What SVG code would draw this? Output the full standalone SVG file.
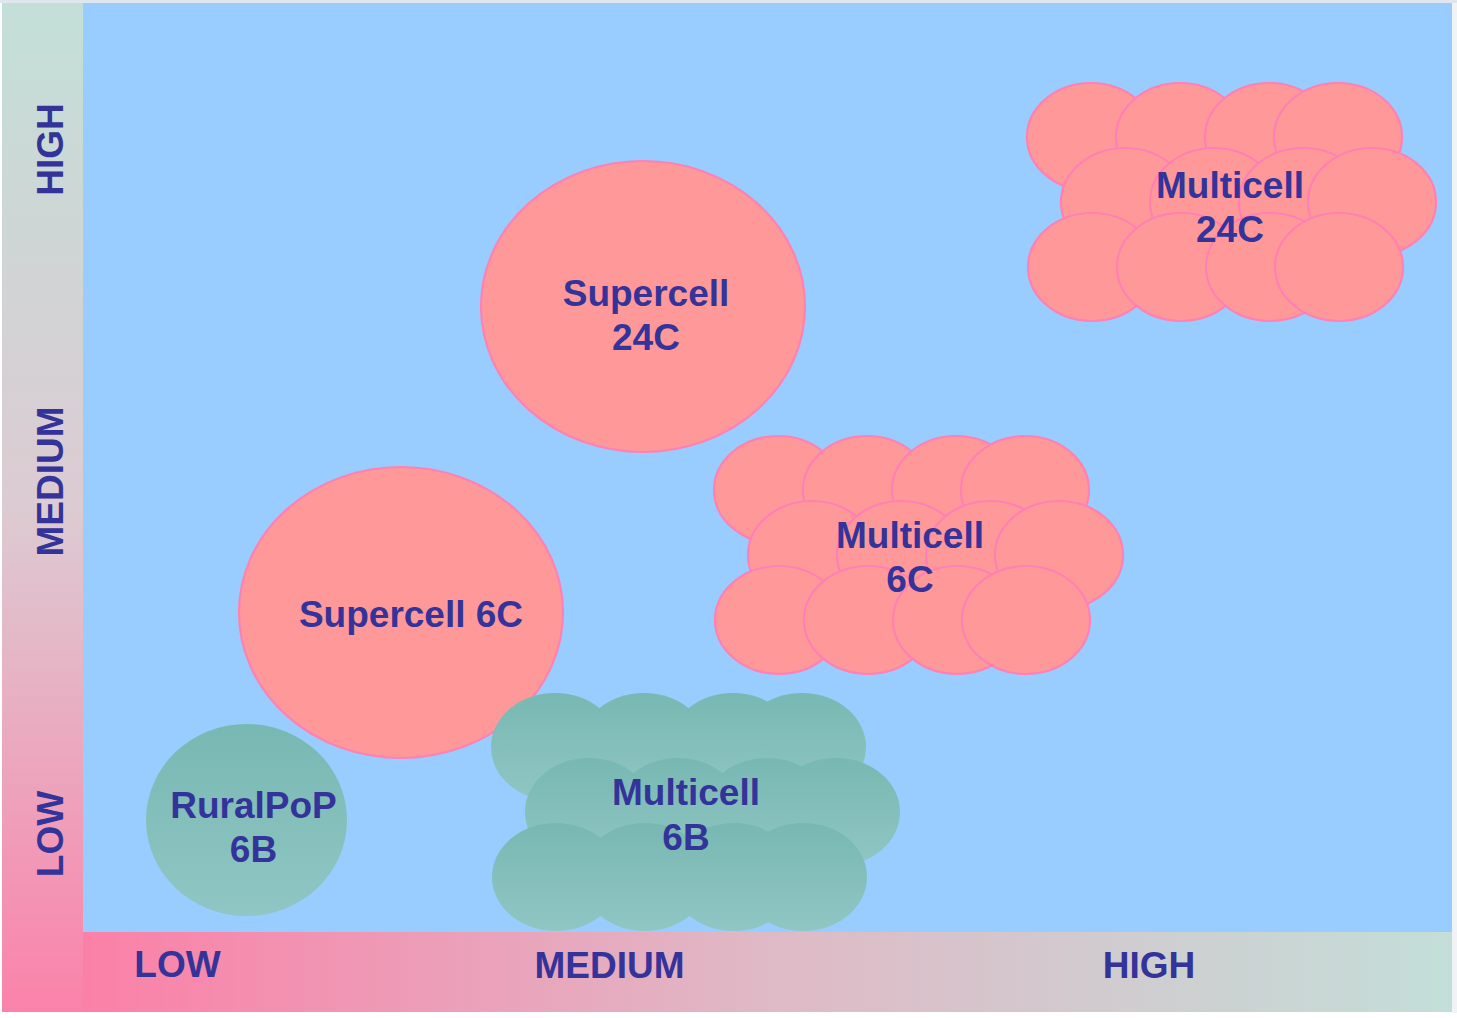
<svg xmlns="http://www.w3.org/2000/svg" xmlns:xlink="http://www.w3.org/1999/xlink" width="1457" height="1018" viewBox="0 0 1457 1018">
  <style>
    .lbl { font-family: "Liberation Sans", Arial, sans-serif; font-weight: bold; font-size: 37px; fill: #333399; text-anchor: middle; }
    .pink { fill: #ff9999; stroke: #ff80b3; stroke-width: 2.2; }
    .teal { fill: url(#tealGrad); stroke: none; }
  </style>
  <defs>
    <linearGradient id="vStrip" x1="0" y1="0" x2="0" y2="1">
      <stop offset="0" stop-color="#c3dfd8"/>
      <stop offset="0.5" stop-color="#dccbd2"/>
      <stop offset="1" stop-color="#fb82aa"/>
    </linearGradient>
    <linearGradient id="hStrip" x1="0" y1="0" x2="1" y2="0">
      <stop offset="0" stop-color="#fb80a8"/>
      <stop offset="0.5" stop-color="#dfb9c6"/>
      <stop offset="1" stop-color="#c3ded8"/>
    </linearGradient>
    <linearGradient id="tealGrad" x1="0" y1="0" x2="0" y2="1">
      <stop offset="0" stop-color="#78b8b2"/>
      <stop offset="1" stop-color="#90c6c4"/>
    </linearGradient>
    <!-- cluster of 12 overlapping cells, origin at the first cell's centre -->
    <g id="cluster">
      <ellipse cx="0" cy="0" rx="64" ry="54"/>
      <ellipse cx="89" cy="0" rx="64" ry="54"/>
      <ellipse cx="178" cy="0" rx="64" ry="54"/>
      <ellipse cx="247" cy="0" rx="64" ry="54"/>
      <ellipse cx="34" cy="65" rx="64" ry="54"/>
      <ellipse cx="123" cy="65" rx="64" ry="54"/>
      <ellipse cx="212" cy="65" rx="64" ry="54"/>
      <ellipse cx="281" cy="65" rx="64" ry="54"/>
      <ellipse cx="1" cy="130" rx="64" ry="54"/>
      <ellipse cx="90" cy="130" rx="64" ry="54"/>
      <ellipse cx="179" cy="130" rx="64" ry="54"/>
      <ellipse cx="248" cy="130" rx="64" ry="54"/>
    </g>
  </defs>

  <!-- page and chart frame -->
  <rect x="0" y="0" width="1457" height="1018" fill="#ffffff"/>
  <rect x="0" y="0" width="1457" height="3" fill="#dfe6ee"/>
  <rect x="1452" y="3" width="5" height="1010" fill="#f1f4f7"/>
  <rect x="2" y="3" width="81" height="1009" fill="url(#vStrip)"/>
  <rect x="83" y="932" width="1369" height="80" fill="url(#hStrip)"/>
  <rect x="83" y="3" width="1369" height="929" fill="#99ccff"/>

  <!-- axis labels -->
  <g id="axis-y">
    <text class="lbl" transform="translate(63,149.5) rotate(-90)">HIGH</text>
    <text class="lbl" transform="translate(63,481.5) rotate(-90)">MEDIUM</text>
    <text class="lbl" transform="translate(63,834) rotate(-90)">LOW</text>
  </g>
  <g id="axis-x">
    <text class="lbl" x="177.5" y="977">LOW</text>
    <text class="lbl" x="609.5" y="978">MEDIUM</text>
    <text class="lbl" x="1149" y="978">HIGH</text>
  </g>

  <g id="supercell-24c">
    <ellipse class="pink" cx="643" cy="306.5" rx="162" ry="145.5"/>
    <text class="lbl" x="646" y="306">Supercell</text>
    <text class="lbl" x="646" y="350">24C</text>
  </g>

  <g id="multicell-24c">
    <use xlink:href="#cluster" href="#cluster" class="pink" x="1091" y="137"/>
    <text class="lbl" x="1230" y="198">Multicell</text>
    <text class="lbl" x="1230" y="242">24C</text>
  </g>

  <g id="multicell-6c">
    <use xlink:href="#cluster" href="#cluster" class="pink" x="778" y="490"/>
    <text class="lbl" x="910" y="548">Multicell</text>
    <text class="lbl" x="910" y="592">6C</text>
  </g>

  <g id="supercell-6c">
    <ellipse class="pink" cx="401" cy="612.5" rx="162" ry="145.5"/>
    <text class="lbl" x="411" y="627">Supercell 6C</text>
  </g>

  <g id="multicell-6b">
    <use xlink:href="#cluster" href="#cluster" class="teal" x="555" y="747"/>
    <text class="lbl" x="686" y="805">Multicell</text>
    <text class="lbl" x="686" y="850">6B</text>
  </g>

  <g id="ruralpop-6b">
    <ellipse class="teal" cx="246.5" cy="820" rx="100.5" ry="96"/>
    <text class="lbl" x="253.5" y="818">RuralPoP</text>
    <text class="lbl" x="253.5" y="862">6B</text>
  </g>
</svg>
